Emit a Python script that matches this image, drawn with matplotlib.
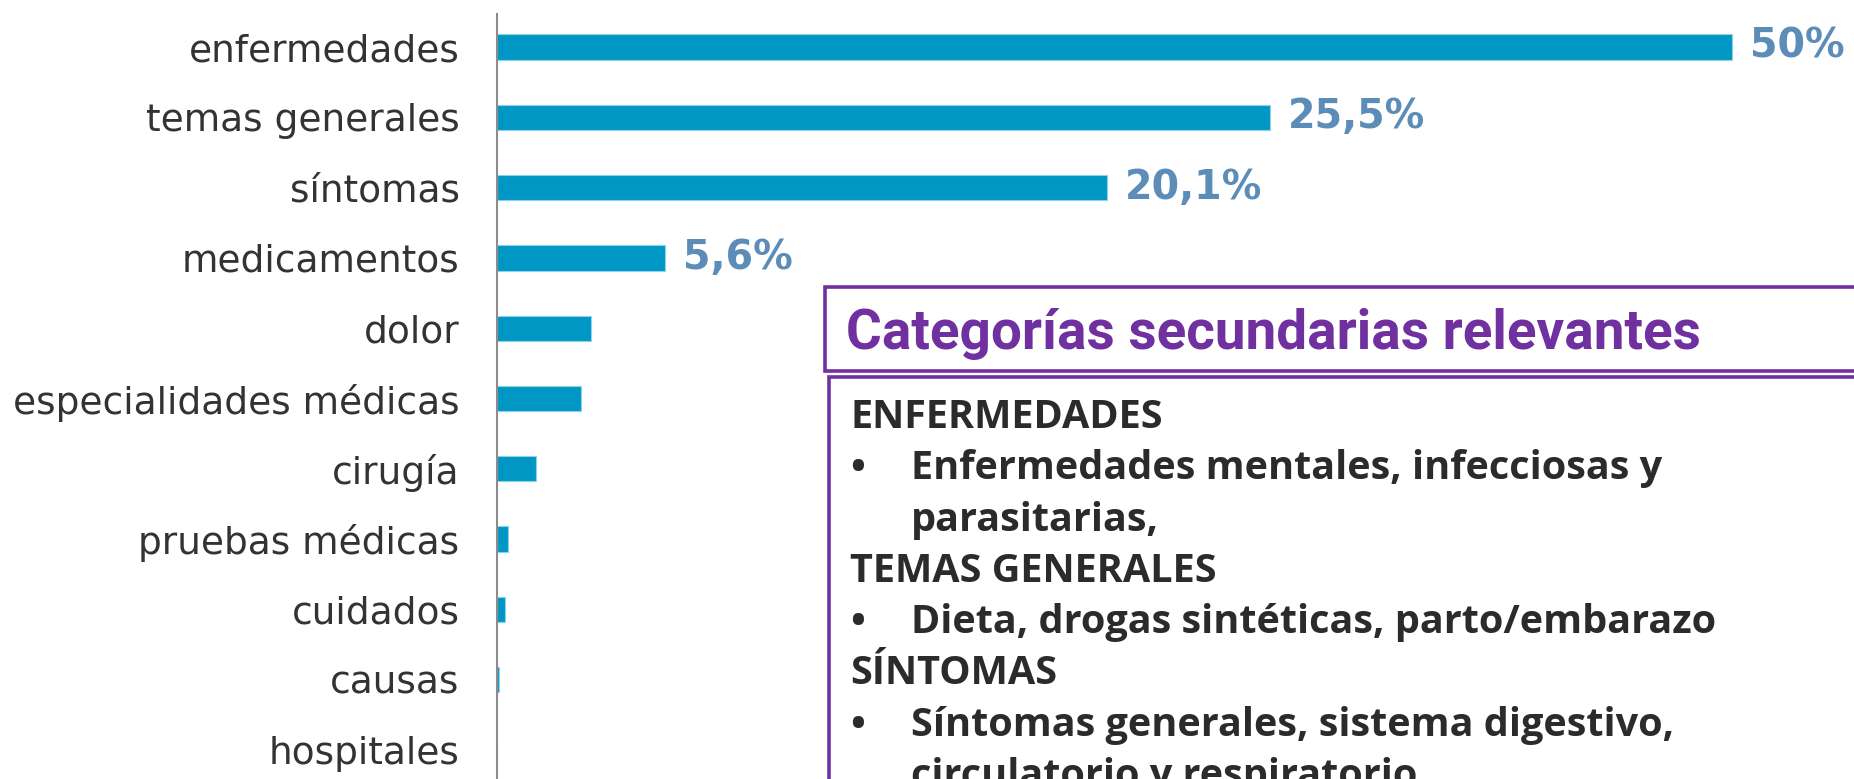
import matplotlib
matplotlib.use("Agg")
import matplotlib.pyplot as plt
from matplotlib.patches import Rectangle

# datos del grafico
categorias = ["enfermedades", "temas generales", "síntomas", "medicamentos", "dolor",
              "especialidades médicas", "cirugía", "pruebas médicas", "cuidados",
              "causas", "hospitales"]
valores = [50, 31.3, 24.7, 6.8, 3.8, 3.4, 1.56, 0.46, 0.32, 0.08, 0]
etiquetas = ["50%", "25,5%", "20,1%", "5,6%", "", "", "", "", "", "", ""]

titulo_caja = "Categorías secundarias relevantes"
lineas_caja = [
    ("h", "ENFERMEDADES"),
    ("b", "Enfermedades mentales, infecciosas y"),
    ("c", "parasitarias,"),
    ("h", "TEMAS GENERALES"),
    ("b", "Dieta, drogas sintéticas, parto/embarazo"),
    ("h", "SÍNTOMAS"),
    ("b", "Síntomas generales, sistema digestivo,"),
    ("c", "circulatorio y respiratorio"),
]

W, H = 1854, 779
fig = plt.figure(figsize=(W / 100, H / 100), dpi=100)
fig.patch.set_facecolor("white")

def fx(x):
    return x / W

def fy(y):
    return 1 - y / H

# ejes: linea vertical en x=497 px, 50 -> 1235 px
ax = fig.add_axes([fx(497), 0, (W - 497) / W, 1 - 14 / H])
ypos = list(range(len(categorias)))
ax.barh(ypos, valores, height=0.36, color="#0097c4", edgecolor="#8fd3ea", linewidth=0.8)
ax.set_xlim(0, 50 * (W - 497) / 1235)
ax.set_ylim((H - 47) / 70.3, -(47 - 14) / 70.3)

for y, v, t in zip(ypos, valores, etiquetas):
    if t:
        ax.annotate(t, (v, y), xytext=(18, 0), textcoords="offset pixels",
                    ha="left", va="center", fontsize=28.5, fontweight="bold",
                    color="#5b8db8", family="DejaVu Sans")

ax.set_yticks(ypos)
ax.set_yticklabels(categorias, fontsize=27, color="#333333", family="DejaVu Sans")
ax.tick_params(axis="y", length=0, pad=27)
ax.set_xticks([])
for s in ["top", "right", "bottom"]:
    ax.spines[s].set_visible(False)
ax.spines["left"].set_color("#8c8c8c")
ax.spines["left"].set_linewidth(1.5)

# cajas de texto
morado = "#7030a0"
fig.patches.append(Rectangle((fx(825), fy(371)), fx(1100), (371 - 287) / H,
                             transform=fig.transFigure, facecolor="white",
                             edgecolor=morado, linewidth=2.6, clip_on=False))
fig.patches.append(Rectangle((fx(829), fy(820)), fx(1100), (820 - 377) / H,
                             transform=fig.transFigure, facecolor="white",
                             edgecolor=morado, linewidth=2.6, clip_on=False))

fig.text(fx(846), fy(349), titulo_caja, fontsize=39.5, fontweight="bold",
         color=morado, family="Roboto", va="baseline", ha="left")

base = 428
for i, (tipo, txt) in enumerate(lineas_caja):
    yb = base + 51.3 * i
    if tipo == "h":
        fig.text(fx(850), fy(yb), txt, fontsize=28.5, fontweight="bold",
                 color="#2b2b2b", family="Open Sans", va="baseline")
    else:
        if tipo == "b":
            fig.text(fx(850), fy(yb), "•", fontsize=28.5, fontweight="bold",
                     color="#2b2b2b", family="Open Sans", va="baseline")
        fig.text(fx(911), fy(yb), txt, fontsize=28.5, fontweight="bold",
                 color="#2b2b2b", family="Open Sans", va="baseline")

fig.savefig("out.png", dpi=100, facecolor="white")
